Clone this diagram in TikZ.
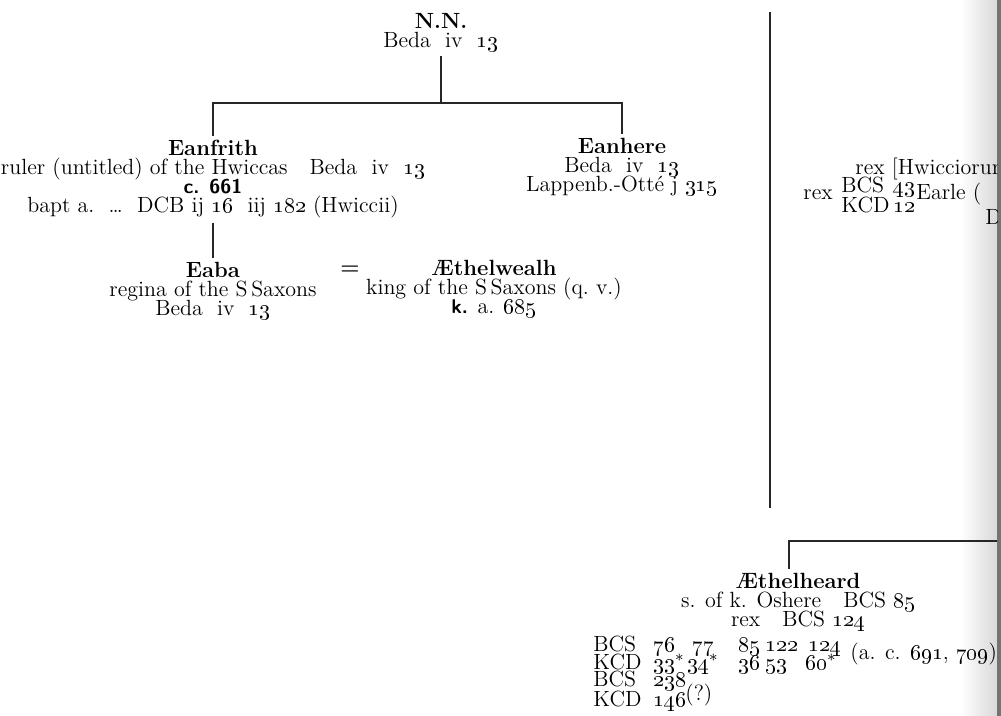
\documentclass[tikz,border=0pt]{standalone}
\newcommand\osn[1]{\oldstylenums{#1}}
\newcommand\sfb[1]{{\fontsize{10}{9.5}\selectfont\textsf{\textbf{#1}}}}
\newcommand\col[2]{\makebox[#1][l]{#2}}
\newcommand\tightfont{\fontsize{11}{9.5}\selectfont\lineskiplimit=-20pt\relax}
\newcommand\chartfont[1]{\fontsize{11}{#1}\selectfont\lineskiplimit=-20pt\relax}
\begin{document}
\begin{tikzpicture}[
    x=0.5pt, y=-0.5pt,
    person/.style={align=center, inner sep=2pt, anchor=north, font=\tightfont},
    note/.style={inner sep=0pt, anchor=base west, font=\tightfont},
    chart/.style={align=left, inner sep=0pt, anchor=north west, font=\chartfont{#1}},
    line/.style={line width=0.55pt, black!85}
  ]
  \useasboundingbox (0,0) rectangle (1001,716);
  % page edge
  \shade[left color=white, right color=black!15] (960,0) rectangle (997,716);
  \fill[black!55] (997,0) rectangle (1001,716);
  \begin{scope}
    \clip (0,0) rectangle (997,716);
    % left column
    \node[person] (nn) at (441,9) {\textbf{N.N.}\\Beda\ \ iv\ \ \osn{13}};
    \node[person] (eanfrith) at (213,136) {\textbf{Eanfrith}\\
      ruler (untitled) of the Hwiccas\quad Beda\ \ iv\ \ \osn{13}\\
      \sfb{c. 661}\\
      bapt a.\ \ \ldots\ \ DCB ij \osn{16}\ \ iij \osn{182} (Hwiccii)};
    \node[person] (eanhere) at (622,134) {\textbf{Eanhere}\\Beda\ \ iv\ \ \osn{13}\\Lappenb.-Otté j \osn{315}};
    \node[person] (eaba) at (213,258) {\textbf{Eaba}\\regina of the S\,Saxons\\Beda\ \ iv\ \ \osn{13}};
    \node[font=\tightfont] (wed) at (350,270) {\textbf{=}};
    \node[person] (aethelwealh) at (494,256) {\textbf{Æthelwealh}\\king of the S\,Saxons (q.\ v.)\\\sfb{k.} a. \osn{685}};
    \coordinate (fork) at (441,103);
    \draw[line] (nn.south) -- (fork);
    \draw[line] (eanfrith.north) |- (fork) -| (eanhere.north);
    \draw[line] (eanfrith.south) -- (eanfrith.south |- eaba.north);
    % separator
    \coordinate (septop) at (770,12);
    \coordinate (sepbot) at (770,508);
    \draw[line] (septop) -- (sepbot);
    % right column
    \node[note] (rexhw) at (855,175) {rex [Hwicciorum]};
    \node[note] (rex) at (803,200) {rex};
    \node[chart=10pt] (bcs43) at (841,177)
      {\col{26pt}{BCS}\osn{43}\\\col{26pt}{KCD}\osn{12}};
    \node[note] (earle) at (916,200) {Earle (};
    \node[note] (dright) at (985,225) {D};
    % Aethelheard
    \node[person] (aethelheard) at (798,569) {\textbf{Æthelheard}\\
      s. of k. Oshere\quad BCS \osn{85}\\
      rex\quad BCS \osn{124}};
    \coordinate (heardfork) at (789,541);
    \coordinate (heardend) at (1001,541);
    \draw[line] (aethelheard.north -| heardfork) |- (heardend);
    \node[chart=8.75pt] (chartA) at (593,636)
      {\col{30pt}{BCS}\col{19.5pt}{\osn{76}}\col{23pt}{\osn{77}}\col{13.5pt}{\osn{85}}\col{21.5pt}{\osn{122}}\osn{124}\\
       \col{30pt}{KCD}\col{17pt}{\osn{33}$^*$}\col{25.5pt}{\osn{34}$^*$}\col{13.5pt}{\osn{36}}\col{20pt}{\osn{53}}\osn{60}$^*$};
    \node[note] (dateA) at (850,659) {(a. c. \osn{691}, \osn{709})};
    \node[chart=10pt] (chartB) at (593,671)
      {\col{30pt}{BCS}\osn{238}\\\col{30pt}{KCD}\osn{146}};
    \node[note] (queryB) at (685,700) {(?)};
  \end{scope}
\end{tikzpicture}
\end{document}
